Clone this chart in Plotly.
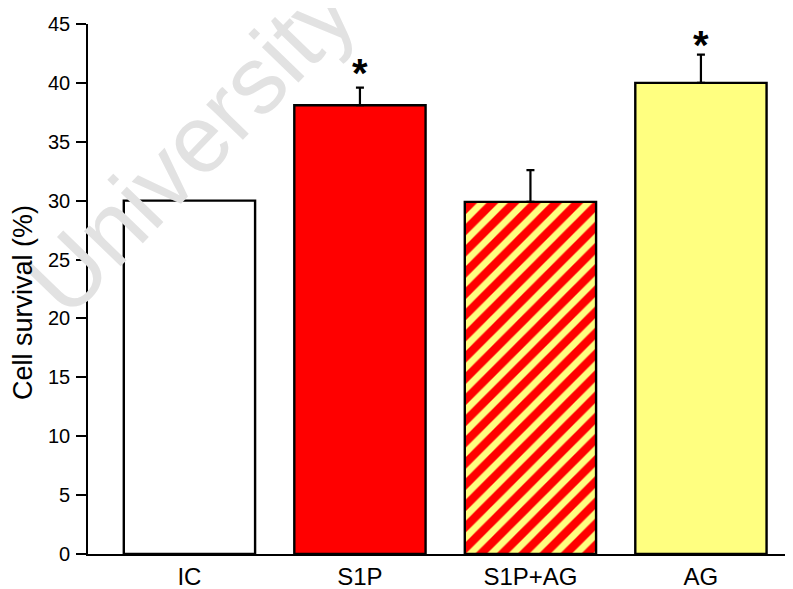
import plotly.graph_objects as go

categories = ["IC", "S1P", "S1P+AG", "AG"]
survival = [30.0, 38.1, 29.9, 40.0]
sem_plus = [0.0, 1.5, 2.7, 2.4]
star_level = [None, 41.4, None, 43.8]   # height of the significance asterisk
y_ticks = [0, 5, 10, 15, 20, 25, 30, 35, 40, 45]

bar_colors = ["#FFFFFF", "#FF0000", "#FF0000", "#FFFF80"]
hatch_colors = [None, None, "#FFFF80", None]

FONT = "Arial, Liberation Sans, sans-serif"
PAGE_PAD = 8  # default body margin of the written html page
PLOT_W, PLOT_H = 705, 530

fig = go.Figure()
for cat, val, err, col, hatch in zip(categories, survival, sem_plus, bar_colors, hatch_colors):
    marker = dict(color=col, line=dict(color="black", width=2.4))
    if hatch:
        marker["pattern"] = dict(shape="/", fgcolor=hatch, bgcolor=col, size=15,
                                 solidity=0.45, fillmode="replace")
    fig.add_trace(go.Bar(
        x=[cat], y=[val], width=0.77, marker=marker,
        error_y=dict(type="data", symmetric=False, array=[err], arrayminus=[0],
                     color="black", thickness=2.2, width=4, visible=err > 0),
        showlegend=False,
    ))

# watermark (added first so everything else is drawn over it)
fig.add_annotation(xref="paper", yref="paper", x=(190 - 88) / PLOT_W, y=(554 - 147) / PLOT_H,
                   xanchor="center", yanchor="middle",
                   text="University", showarrow=False, textangle=-46,
                   font=dict(family=FONT, size=96, color="#E2E2E2"))

# y tick labels drawn as text on top of the watermark
for t in y_ticks:
    fig.add_annotation(xref="paper", yref="y", x=0, y=t, xanchor="right",
                       yanchor="middle", xshift=-16, text=str(t), showarrow=False,
                       font=dict(family=FONT, size=20, color="black"))

for cat, lvl in zip(categories, star_level):
    if lvl is not None:
        fig.add_annotation(x=cat, y=lvl, text="<b>*</b>", showarrow=False,
                           yanchor="middle", yshift=-7,
                           font=dict(family=FONT, size=40, color="black"))

# y-axis title
fig.add_annotation(xref="paper", yref="paper", x=0, y=(554 - 303) / PLOT_H,
                   xanchor="center", yanchor="middle", xshift=-(88 - 23),
                   text="Cell survival (%)", showarrow=False, textangle=-90,
                   font=dict(family=FONT, size=27, color="black"))

fig.update_layout(
    width=793 - PAGE_PAD, height=589 - PAGE_PAD,
    margin=dict(l=88 - PAGE_PAD, r=0, t=24 - PAGE_PAD, b=35),
    paper_bgcolor="white", plot_bgcolor="white",
    font=dict(family=FONT, size=18, color="black"),
    barmode="overlay",
    xaxis=dict(range=[-0.595, 3.54], showline=True, linecolor="black", linewidth=2.4,
               ticks="", showgrid=False, zeroline=False,
               tickfont=dict(size=24)),
    yaxis=dict(range=[0, 45], tickvals=y_ticks, showline=True, linecolor="black",
               linewidth=2.4, ticks="outside", ticklen=10, tickwidth=2.2, tickcolor="black",
               showgrid=False, zeroline=False, showticklabels=False),
)

fig.write_html("out.html")
